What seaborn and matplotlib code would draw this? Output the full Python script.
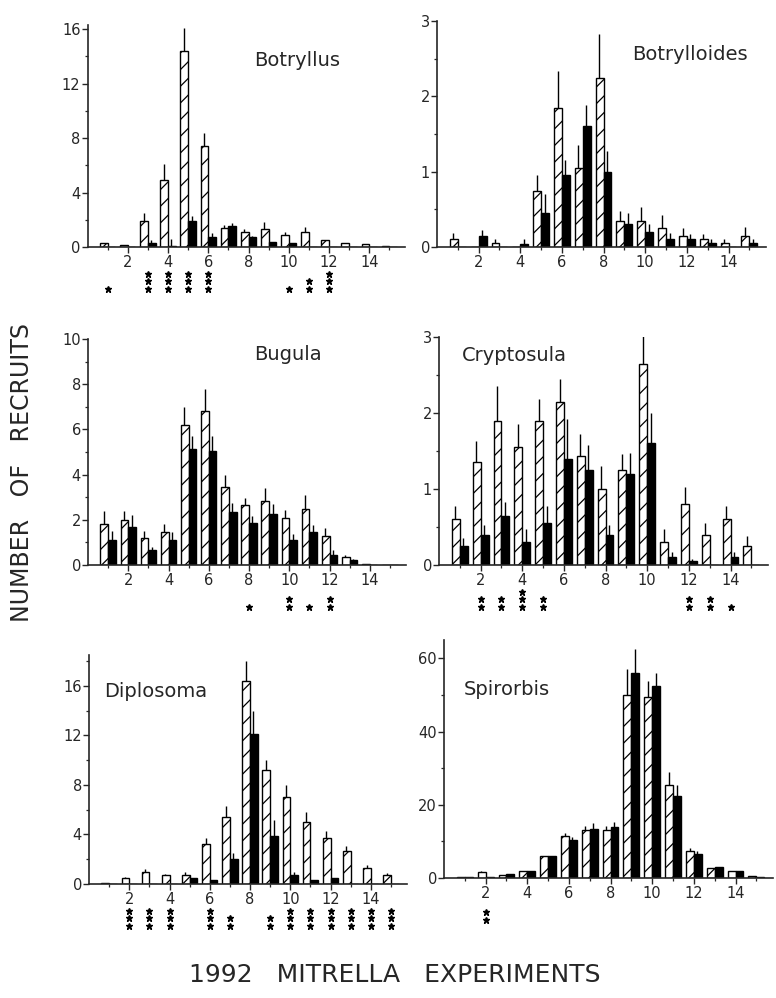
import numpy as np
import pandas as pd
import matplotlib
matplotlib.use("Agg")
import matplotlib.pyplot as plt
import seaborn as sns
from matplotlib.transforms import ScaledTranslation
from matplotlib.ticker import MultipleLocator, FixedLocator

sns.set_style("ticks")
plt.rcParams["font.family"] = ["DejaVu Sans"]
plt.rcParams["hatch.linewidth"] = 0.9

experiments = list(range(1, 16))
groups = ["hatched", "solid"]

# Botryllus
botryllus_h = [0.3, 0.17, 1.93, 4.94, 14.4, 7.4, 1.37, 1.1, 1.3, 0.85, 1.1, 0.54, 0.3, 0.22, 0.05]
botryllus_h_err = [0.3, 0.17, 2.5, 6.1, 16.1, 8.4, 1.6, 1.3, 1.8, 1.1, 1.5, 0.54, 0.3, 0.22, 0.05]
botryllus_b = [0, 0, 0.3, 0.1, 1.93, 0.73, 1.56, 0.73, 0.37, 0.3, 0, 0, 0, 0, 0.02]
botryllus_b_err = [0, 0, 0.5, 0.6, 2.3, 1.0, 1.76, 0.8, 0.4, 0.3, 0, 0, 0, 0, 0.02]
botryllus_stars = [1, 0, 3, 3, 3, 3, 0, 0, 0, 1, 2, 3, 0, 0, 0]

# Botrylloides
botrylloides_h = [0.1, 0, 0.05, 0, 0.75, 1.85, 1.05, 2.25, 0.35, 0.35, 0.25, 0.14, 0.1, 0.05, 0.15]
botrylloides_h_err = [0.18, 0, 0.1, 0, 0.95, 2.33, 1.35, 2.83, 0.48, 0.53, 0.43, 0.25, 0.17, 0.1, 0.27]
botrylloides_b = [0, 0.15, 0, 0.04, 0.45, 0.95, 1.6, 1.0, 0.3, 0.2, 0.1, 0.1, 0.05, 0, 0.05]
botrylloides_b_err = [0, 0.23, 0, 0.1, 0.7, 1.15, 1.88, 1.28, 0.45, 0.3, 0.18, 0.17, 0.1, 0, 0.1]
botrylloides_stars = [0] * 15

# Bugula
bugula_h = [1.8, 2.0, 1.2, 1.45, 6.2, 6.8, 3.45, 2.65, 2.85, 2.1, 2.5, 1.3, 0.35, 0.05, 0]
bugula_h_err = [2.4, 2.4, 1.5, 1.8, 7.0, 7.8, 4.0, 2.95, 3.4, 2.45, 3.1, 1.65, 0.45, 0.05, 0]
bugula_b = [1.1, 1.7, 0.65, 1.1, 5.15, 5.05, 2.35, 1.85, 2.25, 1.1, 1.45, 0.45, 0.2, 0, 0]
bugula_b_err = [1.5, 2.2, 0.8, 1.45, 5.7, 5.7, 2.75, 2.15, 2.7, 1.35, 1.75, 0.65, 0.25, 0, 0]
bugula_stars = [0, 0, 0, 0, 0, 0, 0, 1, 0, 2, 1, 2, 0, 0, 0]

# Cryptosula
cryptosula_h = [0.6, 1.35, 1.9, 1.55, 1.9, 2.15, 1.43, 1.0, 1.25, 2.65, 0.3, 0.8, 0.4, 0.6, 0.25]
cryptosula_h_err = [0.78, 1.63, 2.35, 1.85, 2.18, 2.45, 1.72, 1.3, 1.46, 3.03, 0.47, 1.02, 0.55, 0.78, 0.38]
cryptosula_b = [0.25, 0.4, 0.65, 0.3, 0.55, 1.4, 1.25, 0.4, 1.2, 1.6, 0.1, 0.05, 0, 0.1, 0]
cryptosula_b_err = [0.35, 0.53, 0.83, 0.47, 0.77, 1.92, 1.58, 0.53, 1.47, 2.0, 0.17, 0.08, 0, 0.17, 0]
cryptosula_stars = [0, 2, 2, 3, 2, 0, 0, 0, 0, 0, 0, 2, 2, 1, 0]

# Diplosoma
diplosoma_h = [0.1, 0.5, 1.0, 0.7, 0.7, 3.2, 5.4, 16.4, 9.2, 7.0, 5.0, 3.7, 2.7, 1.3, 0.7]
diplosoma_h_err = [0.1, 0.6, 1.2, 0.8, 1.0, 3.7, 6.3, 18.0, 10.0, 8.0, 5.8, 4.3, 3.1, 1.5, 0.9]
diplosoma_b = [0, 0, 0, 0, 0.45, 0.3, 2.0, 12.1, 3.9, 0.7, 0.35, 0.5, 0, 0, 0]
diplosoma_b_err = [0, 0, 0, 0, 0.5, 0.3, 2.5, 14.0, 5.2, 1.0, 0.35, 0.5, 0, 0, 0]
diplosoma_stars = [0, 3, 3, 3, 0, 3, 2, 0, 2, 3, 3, 3, 3, 3, 3]

# Spirorbis
spirorbis_h = [0.3, 1.7, 0.8, 1.8, 5.9, 11.5, 13.0, 13.0, 50.0, 49.5, 25.5, 7.5, 2.8, 2.0, 0.6]
spirorbis_h_err = [0.3, 2.0, 0.8, 1.8, 5.9, 12.3, 14.3, 14.3, 57.0, 53.8, 29.0, 8.3, 2.8, 2.0, 0.6]
spirorbis_b = [0.3, 0.4, 1.0, 1.8, 6.0, 10.3, 13.3, 13.8, 56.0, 52.5, 22.5, 6.5, 3.1, 2.0, 0.3]
spirorbis_b_err = [0.3, 0.4, 1.0, 1.8, 6.0, 11.2, 15.0, 15.3, 62.5, 56.0, 25.5, 7.5, 3.1, 2.0, 0.3]
spirorbis_stars = [0, 2, 0, 0, 0, 0, 0, 0, 0, 0, 0, 0, 0, 0, 0]

W, H = 776, 998
fig = plt.figure(figsize=(W / 100, H / 100), dpi=100)


def make_ax(left_px, top_px, bottom_px, width_px):
    return fig.add_axes([left_px / W, 1 - bottom_px / H, width_px / W, (bottom_px - top_px) / H])


panels = [
    # name, h, herr, b, berr, stars, ymax, major, minor, (left, top, bottom, width), title pos
    ("Botryllus", botryllus_h, botryllus_h_err, botryllus_b, botryllus_b_err, botryllus_stars,
     16.3, 4, 2, (87.5, 25, 247, 318), (0.66, 0.84)),
    ("Botrylloides", botrylloides_h, botrylloides_h_err, botrylloides_b, botrylloides_b_err, botrylloides_stars,
     3.0, 1, 0.5, (437, 21, 247, 329), (0.77, 0.85)),
    ("Bugula", bugula_h, bugula_h_err, bugula_b, bugula_b_err, bugula_stars,
     10.0, 2, 1, (88, 339, 565, 318), (0.63, 0.93)),
    ("Cryptosula", cryptosula_h, cryptosula_h_err, cryptosula_b, cryptosula_b_err, cryptosula_stars,
     3.0, 1, 0.5, (439, 337, 565, 329), (0.23, 0.92)),
    ("Diplosoma", diplosoma_h, diplosoma_h_err, diplosoma_b, diplosoma_b_err, diplosoma_stars,
     18.5, 4, 2, (89, 655, 884, 318), (0.21, 0.84)),
    ("Spirorbis", spirorbis_h, spirorbis_h_err, spirorbis_b, spirorbis_b_err, spirorbis_stars,
     65.0, 20, 10, (444, 640, 878, 329), (0.19, 0.79)),
]

for name, h, herr, b, berr, stars, ymax, major, minor, box, tpos in panels:
    ax = make_ax(box[0], box[1], box[2], box[3])
    df = pd.DataFrame({
        "exp": experiments * 2,
        "val": list(h) + list(b),
        "grp": ["hatched"] * 15 + ["solid"] * 15,
    })
    sns.barplot(data=df, x="exp", y="val", hue="grp", hue_order=groups,
                native_scale=True, dodge=True, width=0.76, errorbar=None,
                palette=["white", "black"], saturation=1, edgecolor="black",
                linewidth=1.0, legend=False, ax=ax)
    for ci, (cont, errs) in enumerate(zip(ax.containers, [herr, berr])):
        for patch, e in zip(cont, errs):
            if ci == 0:
                patch.set_hatch("//")
            x = patch.get_x() + patch.get_width() * 0.45
            top = patch.get_height()
            if e > top:
                ax.vlines(x, top, e, color="black", lw=1.0)
    ax.set_xlim(0, 15.8)
    ax.set_ylim(0, ymax)
    ax.xaxis.set_major_locator(FixedLocator(list(range(2, 15, 2))))
    ax.xaxis.set_minor_locator(FixedLocator(list(range(1, 16, 2))))
    ax.yaxis.set_major_locator(MultipleLocator(major))
    ax.yaxis.set_minor_locator(MultipleLocator(minor))
    ax.set_xlabel("")
    ax.set_ylabel("")
    for s in ["top", "right"]:
        ax.spines[s].set_visible(False)
    for s in ["left", "bottom"]:
        ax.spines[s].set_linewidth(1.2)
    ax.tick_params(axis="both", which="major", direction="out", length=4, width=1.0,
                   labelsize=10.5, pad=2)
    ax.tick_params(axis="both", which="minor", direction="out", length=2.5, width=0.9)
    ax.tick_params(axis="y", which="major", pad=1)
    ax.text(tpos[0], tpos[1], name, transform=ax.transAxes, ha="center", va="center",
            fontsize=14)
    # significance asterisks stacked below the x-axis labels
    for xi, n in zip(experiments, stars):
        for k in range(n):
            off = ScaledTranslation(0, -(0.42 - k * 0.076), fig.dpi_scale_trans)
            ax.plot([xi], [0], marker="*", ms=4.5, color="black", linestyle="none",
                    transform=ax.get_xaxis_transform() + off, clip_on=False)

fig.text(0.028, 1 - 472 / H, "NUMBER   OF   RECRUITS", rotation=90, ha="center", va="center",
         fontsize=17)
fig.text(395 / W, 1 - 975 / H, "1992   MITRELLA   EXPERIMENTS", ha="center", va="center",
         fontsize=18)

fig.savefig("out.png", dpi=100, facecolor="white")
